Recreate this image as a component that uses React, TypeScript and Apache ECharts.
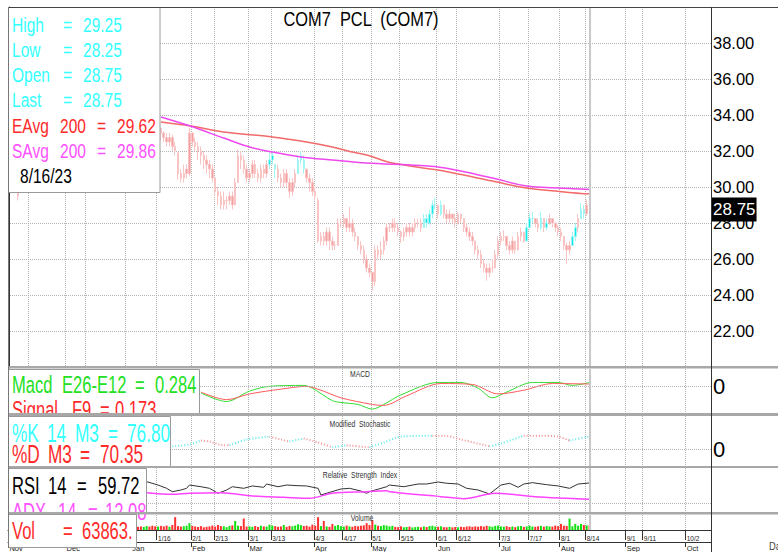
import React, { useEffect, useRef } from 'react';
import * as echarts from 'echarts';

const FONT = "'Liberation Sans', Arial, sans-serif";

const TITLE = 'COM7  PCL  (COM7)';
const LAST_DATE = '8/16/23';
const DAY_COUNT = 246; // weekdays from 2022-11-03
const DAY_TICKS = ['1/16', '2/1', '2/13', '3/1', '3/13', '4/3', '4/17', '5/1', '5/15', '6/1', '6/12', '7/3', '7/17', '8/1', '8/14', '9/1', '9/11', '10/2'];
const GRID_ONLY_TICKS = ['11/14', '12/1', '12/12', '12/30'];
const MONTH_TICKS = ['11/3', '12/1', '1/3', '2/1', '3/1', '4/3', '5/1', '6/1', '7/3', '8/1', '9/1', '10/2'];
const MONTH_NAMES = ['Nov', 'Dec', 'Jan', 'Feb', 'Mar', 'Apr', 'May', 'Jun', 'Jul', 'Aug', 'Sep', 'Oct'];

// [open, close, low, high]
const EARLY_INDEX = 3;
const EARLY_CANDLE = [30.0, 29.5, 29.25, 30.0];
const CANDLE_START = 45;
const CANDLES = [
  [34.0, 33.5, 33.25, 34.25], [33.5, 33.25, 33.0, 33.75], [33.25, 33.5, 33.0, 33.75], [33.5, 33.75, 33.25, 34.0],
  [33.75, 33.5, 33.25, 34.0], [33.5, 33.25, 33.0, 33.75], [33.25, 33.0, 32.75, 33.5], [33.0, 33.25, 32.75, 33.5],
  [33.25, 33.0, 32.6, 33.3], [33.0, 32.75, 32.5, 33.1], [32.75, 32.5, 32.25, 33.0], [32.5, 32.75, 32.25, 33.0],
  [32.75, 32.25, 32.0, 32.9], [32.25, 32.0, 31.75, 32.5], [31.9, 30.75, 30.4, 31.9], [30.75, 30.5, 30.25, 31.0],
  [30.5, 30.75, 30.25, 31.25], [30.75, 31.0, 30.5, 31.25], [30.75, 33.0, 30.6, 33.3], [33.0, 32.5, 32.25, 33.0],
  [32.5, 32.25, 32.0, 32.75], [32.25, 32.0, 31.5, 32.5], [32.0, 31.75, 31.25, 32.25], [31.75, 31.5, 31.0, 32.0],
  [31.5, 31.25, 30.75, 31.75], [31.25, 31.0, 30.5, 31.5], [31.0, 30.5, 30.25, 31.25], [30.5, 29.75, 29.5, 30.5],
  [29.75, 29.5, 29.0, 30.0], [29.5, 29.0, 28.75, 29.75], [29.0, 29.25, 28.75, 29.75], [29.25, 29.25, 28.75, 29.5],
  [29.25, 29.5, 29.0, 29.75], [29.5, 29.0, 28.75, 29.75], [29.0, 30.25, 29.0, 30.5], [30.25, 31.75, 30.25, 32.1],
  [31.75, 31.5, 31.0, 32.0], [31.5, 31.0, 30.75, 31.75], [31.0, 30.5, 30.25, 31.25], [30.5, 30.75, 30.25, 31.0],
  [30.75, 31.25, 30.5, 31.5], [31.25, 30.75, 30.5, 31.5], [30.75, 30.5, 30.25, 31.0], [30.5, 31.0, 30.25, 31.25],
  [31.0, 30.75, 30.5, 31.25], [30.75, 31.25, 30.5, 31.5], [31.25, 31.5, 31.0, 31.9], [31.5, 31.75, 31.25, 32.0],
  [31.25, 31.0, 30.5, 31.25], [31.0, 30.5, 30.25, 31.25], [30.5, 30.25, 30.0, 30.75], [30.25, 30.75, 30.0, 31.0],
  [30.75, 30.25, 30.0, 31.0], [30.25, 29.75, 29.4, 30.5], [29.75, 30.25, 29.5, 30.5], [30.25, 30.75, 30.0, 31.0],
  [30.75, 31.5, 30.75, 31.75], [31.5, 31.75, 31.25, 32.0], [31.5, 31.0, 30.75, 31.75], [31.0, 30.5, 30.25, 31.0],
  [30.5, 30.25, 29.75, 30.75], [30.25, 29.75, 29.5, 30.5], [29.75, 29.5, 29.25, 30.0], [29.25, 27.0, 26.9, 29.4],
  [27.0, 27.25, 26.75, 27.5], [27.25, 27.0, 26.75, 27.5], [27.0, 27.5, 26.75, 27.75], [27.5, 27.0, 26.5, 27.75],
  [27.0, 26.75, 26.5, 27.25], [26.75, 26.75, 26.5, 27.0], [26.75, 28.0, 26.75, 28.25], [28.0, 28.0, 27.75, 28.25],
  [28.0, 28.25, 27.75, 28.5], [28.25, 27.75, 27.5, 28.25], [27.75, 28.0, 27.5, 28.9], [28.0, 27.5, 27.25, 28.25],
  [27.5, 27.25, 27.0, 27.75], [27.25, 26.75, 26.5, 27.25], [26.75, 26.5, 26.25, 27.0], [26.5, 26.0, 25.75, 26.75],
  [26.0, 25.5, 25.25, 26.25], [25.5, 25.25, 25.0, 25.75], [25.25, 24.75, 24.25, 25.25], [24.75, 26.5, 24.5, 26.75],
  [26.5, 26.25, 26.0, 26.75], [26.25, 26.5, 26.0, 27.0], [26.5, 27.0, 26.25, 27.25], [27.0, 27.75, 26.75, 28.0],
  [27.75, 27.75, 27.5, 28.0], [27.75, 28.0, 27.5, 28.25], [28.0, 27.75, 27.5, 28.25], [27.75, 27.5, 27.25, 28.0],
  [27.5, 27.25, 26.9, 27.6], [27.25, 27.5, 27.0, 27.75], [27.5, 27.75, 27.25, 28.0], [27.75, 27.5, 27.25, 28.0],
  [27.5, 27.75, 27.25, 28.0], [27.75, 28.0, 27.5, 28.25], [28.0, 28.0, 27.75, 28.25], [28.0, 27.75, 27.5, 28.25],
  [27.75, 28.25, 27.75, 28.5], [28.25, 28.0, 27.75, 28.5], [28.0, 28.5, 27.9, 28.75], [28.5, 29.0, 28.25, 29.25],
  [29.0, 29.0, 28.75, 29.4], [29.0, 28.5, 28.25, 29.0], [28.5, 29.0, 28.4, 29.25], [29.0, 28.5, 28.25, 29.0],
  [28.5, 28.25, 28.0, 28.75], [28.25, 28.5, 28.0, 28.75], [28.5, 28.25, 28.0, 28.5], [28.25, 28.0, 27.75, 28.5],
  [28.0, 28.5, 27.9, 28.6], [28.5, 28.25, 28.0, 28.5], [28.25, 27.75, 27.5, 28.25], [27.75, 27.5, 27.25, 28.0],
  [27.5, 27.25, 27.0, 27.75], [27.25, 27.0, 26.75, 27.5], [27.0, 26.5, 26.25, 27.0], [26.5, 26.25, 26.0, 26.75],
  [26.25, 25.75, 25.5, 26.5], [25.75, 25.5, 25.25, 26.0], [25.5, 25.25, 24.8, 25.75], [25.25, 25.5, 25.0, 25.75],
  [25.5, 25.5, 25.25, 26.0], [25.5, 26.25, 25.5, 26.5], [26.25, 27.0, 26.0, 27.25], [27.0, 27.25, 26.75, 27.5],
  [27.25, 27.25, 27.0, 27.6], [27.25, 26.75, 26.5, 27.25], [26.75, 26.5, 26.25, 27.0], [26.5, 27.0, 26.3, 27.25],
  [27.0, 26.5, 26.3, 27.0], [26.5, 27.25, 26.5, 27.5], [27.25, 27.5, 27.0, 27.75], [27.5, 27.0, 26.9, 27.5],
  [27.0, 27.75, 27.0, 28.0], [27.75, 28.25, 27.75, 28.5], [28.25, 28.25, 28.0, 28.6], [28.25, 28.0, 27.75, 28.25],
  [28.0, 27.75, 27.5, 28.25], [27.75, 28.25, 27.6, 28.6], [28.25, 27.75, 27.5, 28.25], [27.75, 28.0, 27.6, 28.25],
  [28.0, 28.25, 27.9, 28.5], [28.25, 28.0, 27.75, 28.25], [28.0, 27.75, 27.5, 28.0], [27.75, 27.5, 27.25, 27.9],
  [27.5, 27.25, 27.0, 27.75], [27.25, 26.75, 26.5, 27.25], [26.75, 26.5, 25.75, 26.9], [26.5, 26.75, 26.25, 27.0],
  [26.75, 27.25, 26.75, 27.5], [27.25, 27.75, 27.0, 28.0], [27.75, 28.25, 27.5, 28.5], [28.25, 28.75, 28.25, 29.1],
  [28.75, 28.5, 28.25, 29.0], [28.5, 29.0, 28.4, 29.3], [28.75, 28.75, 28.25, 29.25],
];
const CYAN_DAYS = [91, 92, 93, 101, 102, 103, 145, 146, 147, 148, 149, 151, 181, 182, 183, 186, 188, 197, 198, 200, 201];

// volume in thousands of shares, from day 45
const VOLUME_START = 45;
const VOLUME_K = [
  45, 50, 42, 55, 48, 60, 52, 47, 58, 50,
  62, 45, 70, 180, 55, 48, 52, 60, 95, 58,
  50, 42, 55, 38, 45, 50, 62, 48, 70, 55,
  52, 40, 58, 65, 127, 60, 55, 160, 48, 50,
  45, 55, 42, 60, 50, 48, 75, 62, 55, 45,
  50, 70, 45, 58, 52, 62, 80, 68, 55, 60,
  48, 75, 60, 180, 55, 127, 50, 45, 85, 58,
  70, 55, 48, 62, 50, 45, 58, 52, 60, 65,
  95, 70, 138, 75, 60, 55, 68, 62, 50, 58,
  45, 40, 52, 38, 42, 48, 36, 40, 45, 38,
  50, 42, 55, 60, 48, 45, 52, 40, 38, 44,
  36, 42, 38, 45, 40, 48, 52, 44, 50, 46,
  55, 48, 60, 52, 45, 58, 62, 50, 46, 54,
  42, 48, 40, 52, 56, 44, 50, 62, 48, 45,
  52, 58, 46, 55, 50, 48, 62, 55, 85, 60,
  58, 160, 52, 85, 60, 85, 70, 65, 63.863,
];

// [day index, value]
const EMA200 = [[53, 33.61], [63, 33.4], [75, 33.06], [92, 32.78], [104, 32.5], [113, 32.22], [120, 31.94], [125, 31.78], [134, 31.33], [150, 30.94], [169, 30.33], [181, 29.94], [200, 29.64], [203, 29.62]];
const SMA200 = [[53, 33.89], [63, 33.4], [75, 32.72], [84, 32.22], [92, 31.94], [102, 31.67], [113, 31.5], [125, 31.33], [150, 31.11], [169, 30.5], [181, 30.06], [200, 29.89], [203, 29.86]];
const MACD_LINE = [[67, -0.5], [76, -1.14], [84, -0.36], [91, 0], [103, 0.07], [106, -0.14], [113, -1.07], [116, -1.21], [122, -1.36], [127, -1.71], [131, -1.36], [137, -0.64], [150, 0.29], [158, 0.29], [164, -0.14], [169, -0.86], [174, -0.43], [183, 0.29], [192, 0.29], [197, 0.07], [203, 0.284]];
const MACD_SIGNAL = [[67, -0.43], [76, -1.0], [84, -0.57], [95, -0.21], [104, 0], [109, -0.29], [116, -0.86], [127, -1.36], [131, -1.43], [139, -0.71], [151, 0.21], [162, 0.14], [171, -0.57], [180, -0.29], [190, 0.21], [203, 0.173]];
const STOCH_K = [[57, 18], [63, 29], [67, 53], [70, 47], [75, 24], [77, 24], [83, 59], [91, 76], [95, 59], [98, 47], [103, 65], [108, 41], [113, 12], [118, 24], [126, 12], [131, 41], [137, 76], [148, 82], [152, 82], [158, 59], [168, 18], [172, 35], [180, 82], [186, 82], [192, 76], [196, 53], [203, 76.8]];
const STOCH_D_LAST = 70.35;
const RSI14 = [[48, 61.7], [52, 56.7], [55, 51.8], [57, 46.8], [60, 49.3], [62, 51.8], [63, 56.7], [67, 54.2], [70, 51.8], [73, 44.4], [76, 49.3], [78, 54.2], [82, 51.8], [85, 55.3], [89, 53.3], [90, 58.2], [94, 54.2], [97, 56.7], [101, 55.7], [104, 55.3], [108, 51.8], [109, 41.9], [116, 50.8], [119, 51.8], [123, 47.8], [125, 44.4], [126, 46.8], [132, 54.2], [133, 56.7], [138, 54.2], [143, 58.2], [146, 58.2], [150, 61.2], [153, 59.3], [157, 58.2], [160, 51.8], [164, 49.3], [168, 43.4], [172, 56.7], [175, 59.3], [178, 53.3], [180, 58.2], [183, 60.2], [188, 57.2], [192, 55.3], [196, 51.8], [199, 58.2], [203, 59.72]];
const ADX14 = [[48, 21.9], [57, 19.5], [63, 21.0], [74, 21.9], [85, 17.0], [96, 15.1], [105, 13.6], [113, 21.0], [125, 23.4], [132, 24.9], [133, 23.4], [151, 16.0], [159, 13.0], [170, 21.0], [184, 16.0], [195, 13.6], [203, 12.08]];

const CYAN = '#33ffff';
const RED = '#ff2a2a';
const MAGENTA = '#ff50ff';
const GREEN = '#22e022';

function buildDays(): string[] {
  const out: string[] = [];
  const d = new Date(Date.UTC(2022, 10, 3));
  while (out.length < DAY_COUNT) {
    const wd = d.getUTCDay();
    if (wd !== 0 && wd !== 6) out.push(`${d.getUTCMonth() + 1}/${d.getUTCDate()}`);
    d.setUTCDate(d.getUTCDate() + 1);
  }
  return out;
}

export default function App() {
  const ref = useRef<HTMLDivElement>(null);
  useEffect(() => {
    document.body.style.margin = '0';
    const chart = echarts.init(ref.current!, undefined, { renderer: 'svg' });
    const DAYS = buildDays();
    const lastIndex = CANDLE_START + CANDLES.length - 1;
    const last = CANDLES[CANDLES.length - 1];
    const gridSet = new Set([...DAY_TICKS, ...GRID_ONLY_TICKS]);
    const labelSet = new Set(DAY_TICKS);
    const monthSet = new Set(MONTH_TICKS);
    const gridFn = (_i: number, v: string) => gridSet.has(v);
    const labelFn = (_i: number, v: string) => labelSet.has(v);
    const monthFn = (_i: number, v: string) => monthSet.has(v);

    const closeAt = (i: number) => {
      if (i === EARLY_INDEX) return EARLY_CANDLE[1];
      const c = CANDLES[i - CANDLE_START];
      return c ? c[1] : NaN;
    };

    const candleData: any[] = [];
    for (let i = 0; i <= lastIndex; i++) {
      let v: number[] | null = null;
      if (i === EARLY_INDEX) v = EARLY_CANDLE;
      else if (i >= CANDLE_START) v = CANDLES[i - CANDLE_START];
      if (!v) { candleData.push(['-', '-', '-', '-']); continue; }
      const cyan = CYAN_DAYS.includes(i);
      const body = cyan ? '#10eaea' : '#f4a0a0';
      const wick = cyan ? '#9ff4f4' : '#f8c4c4';
      candleData.push({ value: v, itemStyle: { color: body, color0: body, borderColor: wick, borderColor0: wick } });
    }

    const volData: any[] = [];
    for (let i = 0; i <= lastIndex; i++) {
      const k = i - VOLUME_START;
      if (k < 0 || k >= VOLUME_K.length) { volData.push('-'); continue; }
      const prev = closeAt(i - 1);
      const c = CANDLES[i - CANDLE_START];
      const up = isNaN(prev) ? c[1] >= c[0] : c[1] >= prev;
      volData.push({ value: VOLUME_K[k], itemStyle: { color: up ? '#10e010' : '#ff3030' } });
    }

    const segs: { rising: boolean; pts: number[][] }[] = [];
    for (let k = 1; k < STOCH_K.length; k++) {
      const a = STOCH_K[k - 1], b = STOCH_K[k];
      const rising = b[1] > a[1];
      const s = segs[segs.length - 1];
      if (s && s.rising === rising) s.pts.push(b);
      else segs.push({ rising, pts: [a, b] });
    }

    const dotted = { color: '#b4b4b4', type: 'dotted' as const, width: 1 };
    const nowLine = { xAxis: lastIndex, lineStyle: { color: '#c8c8c8', width: 2, type: 'solid' }, label: { show: false } };
    const nowLineCat = { xAxis: DAYS[lastIndex], lineStyle: { color: '#c8c8c8', width: 2, type: 'solid' }, label: { show: false } };

    const catAxis = (g: number, extra: any = {}) => ({
      type: 'category', gridIndex: g, data: DAYS, boundaryGap: true,
      axisLine: { show: false }, axisTick: { show: false }, axisLabel: { show: false },
      splitLine: { show: true, interval: gridFn, lineStyle: dotted }, ...extra,
    });
    const valAxis = (g: number) => ({ type: 'value', gridIndex: g, min: -0.5, max: DAY_COUNT - 0.5, show: false });
    const rightAxisLine = { show: true, lineStyle: { color: '#333', width: 1 } };

    const grids = [
      { left: 8, right: 67, top: 7, height: 360 },
      { left: 8, right: 67, top: 369, height: 44 },
      { left: 8, right: 67, top: 416, height: 50 },
      { left: 8, right: 67, top: 468, height: 44 },
      { left: 8, right: 67, top: 515, height: 20 },
    ];

    let z = 100;
    const txt = (x: number, y: number, text: string, fill: string, size: number, sx: number, align = 'left') => ({
      type: 'text', z, x, y, scaleX: sx,
      style: { text, fill, fontSize: size, fontFamily: FONT, align, textAlign: align, verticalAlign: 'middle', textVerticalAlign: 'middle' },
    });
    const box = (x: number, y: number, w: number, h: number) => {
      z += 2;
      return { type: 'rect', z: z - 1, shape: { x, y, width: w, height: h }, style: { fill: '#fff', stroke: '#9a9a9a', lineWidth: 1 } };
    };
    const sep = (y: number, h: number) => {
      z += 2;
      return { type: 'rect', z: z - 1, shape: { x: 8, y, width: 770, height: h }, style: { fill: '#a8a8a8' } };
    };
    const vline = (x: number, y1: number, y2: number, color: string) => ({ type: 'line', z: 200, shape: { x1: x, y1, x2: x, y2 }, style: { stroke: color, lineWidth: 1 } });
    const hline = (y: number, x1: number, x2: number, color: string) => ({ type: 'line', z: 200, shape: { x1, y1: y, x2, y2: y }, style: { stroke: color, lineWidth: 1 } });

    const ema = EMA200[EMA200.length - 1][1];
    const sma = SMA200[SMA200.length - 1][1];
    const macd = MACD_LINE[MACD_LINE.length - 1][1];
    const sig = MACD_SIGNAL[MACD_SIGNAL.length - 1][1];
    const kLast = STOCH_K[STOCH_K.length - 1][1];
    const rsi = RSI14[RSI14.length - 1][1];
    const adx = ADX14[ADX14.length - 1][1];
    const vol = Math.round(VOLUME_K[VOLUME_K.length - 1] * 1000);

    const S1 = 0.74, S2 = 0.69;
    const graphic: any[] = [];
    graphic.push(
      txt(361, 19, TITLE, '#000', 20, 0.82, 'center'),
      txt(360, 374, 'MACD', '#333', 8.5, 0.8, 'center'),
      txt(360, 424, 'Modified  Stochastic', '#333', 8.5, 0.8, 'center'),
      txt(360, 475, 'Relative  Strength  Index', '#333', 8.5, 0.8, 'center'),
      txt(362, 518, 'Volume', '#333', 8.5, 0.8, 'center'),
    );
    graphic.push(box(8.5, 7.5, 151.5, 185));
    graphic.push(
      txt(12, 25, 'High', CYAN, 21, S1), txt(63, 25, '=', CYAN, 21, S1), txt(83, 25, last[3].toFixed(2), CYAN, 21, S1),
      txt(12, 49.5, 'Low', CYAN, 21, S1), txt(63, 49.5, '=', CYAN, 21, S1), txt(83, 49.5, last[2].toFixed(2), CYAN, 21, S1),
      txt(12, 74.5, 'Open', CYAN, 21, S1), txt(63, 74.5, '=', CYAN, 21, S1), txt(83, 74.5, last[0].toFixed(2), CYAN, 21, S1),
      txt(12, 100, 'Last', CYAN, 21, S1), txt(63, 100, '=', CYAN, 21, S1), txt(83, 100, last[1].toFixed(2), CYAN, 21, S1),
      txt(12, 125.5, 'EAvg', RED, 21, S1), txt(60, 125.5, '200', RED, 21, S1), txt(97, 125.5, '=', RED, 21, S1), txt(117, 125.5, ema.toFixed(2), RED, 21, S1),
      txt(12, 150.5, 'SAvg', MAGENTA, 21, S1), txt(60, 150.5, '200', MAGENTA, 21, S1), txt(97, 150.5, '=', MAGENTA, 21, S1), txt(117, 150.5, sma.toFixed(2), MAGENTA, 21, S1),
      txt(20, 176, LAST_DATE, '#000', 21, S1),
    );
    graphic.push(box(8.5, 369.5, 191, 44));
    graphic.push(
      txt(12, 384.5, 'Macd', GREEN, 24, S2), txt(62, 384.5, 'E26-E12', GREEN, 24, S2), txt(135, 384.5, '=', GREEN, 24, S2), txt(155, 384.5, macd.toFixed(3), GREEN, 24, S2),
      txt(12, 409, 'Signal', RED, 24, S2), txt(72, 409, 'F9', RED, 24, S2), txt(100, 409, '=', RED, 24, S2), txt(115, 409, sig.toFixed(3), RED, 24, S2),
    );
    graphic.push(sep(413, 3));
    graphic.push(box(8.5, 416.5, 162, 50));
    graphic.push(
      txt(12, 433.5, '%K', CYAN, 25, S2), txt(47, 433.5, '14', CYAN, 25, S2), txt(75, 433.5, 'M3', CYAN, 25, S2), txt(108, 433.5, '=', CYAN, 25, S2), txt(127, 433.5, kLast.toFixed(2), CYAN, 25, S2),
      txt(12, 455, '%D', RED, 25, S2), txt(48, 455, 'M3', RED, 25, S2), txt(80, 455, '=', RED, 25, S2), txt(100, 455, STOCH_D_LAST.toFixed(2), RED, 25, S2),
    );
    graphic.push(sep(466, 2));
    graphic.push(box(8.5, 468.5, 138, 44));
    graphic.push(
      txt(12, 485.5, 'RSI', '#000', 24, S2), txt(48, 485.5, '14', '#000', 24, S2), txt(77, 485.5, '=', '#000', 24, S2), txt(98, 485.5, rsi.toFixed(2), '#000', 24, S2),
      txt(12, 511, 'ADX', MAGENTA, 24, S2), txt(58, 511, '14', MAGENTA, 24, S2), txt(88, 511, '=', MAGENTA, 24, S2), txt(105, 511, adx.toFixed(2), MAGENTA, 24, S2),
    );
    graphic.push(sep(512, 2.5));
    graphic.push(box(8.5, 514.5, 128, 33));
    graphic.push(
      txt(12, 530.5, 'Vol', RED, 24, S2), txt(63, 530.5, '=', RED, 24, S2), txt(82, 530.5, `${vol}.`, RED, 24, S2),
    );
    graphic.push(sep(366, 2.5));
    graphic.push(
      hline(7.5, 8, 778, '#444'),
      vline(8.5, 7, 548, '#777'),
      vline(711.5, 7, 552, '#333'),
      txt(769, 546, 'Date', '#444', 11, 0.85),
    );

    const series: any[] = [
      {
        type: 'candlestick', xAxisIndex: 0, yAxisIndex: 0, data: candleData, barWidth: 2,
        itemStyle: { borderWidth: 1 }, silent: true,
        markLine: {
          silent: true, symbol: ['none', 'none'], animation: false,
          data: [
            { yAxis: last[1], lineStyle: { color: 'rgba(0,0,0,0)', width: 0 }, label: { show: true, position: 'end', formatter: last[1].toFixed(2), color: '#fff', backgroundColor: '#000', opacity: 1, fontSize: 17, fontFamily: FONT, padding: [4, 1, 3, 1], distance: 1 } },
            nowLineCat,
          ],
        },
      },
      { type: 'line', xAxisIndex: 1, yAxisIndex: 0, data: EMA200, showSymbol: false, smooth: 0.3, lineStyle: { color: '#f26a6a', width: 1.5 }, silent: true },
      { type: 'line', xAxisIndex: 1, yAxisIndex: 0, data: SMA200, showSymbol: false, smooth: 0.3, lineStyle: { color: '#ee48ee', width: 1.5 }, silent: true },
      {
        type: 'line', xAxisIndex: 3, yAxisIndex: 1, data: MACD_LINE, showSymbol: false, smooth: 0.3, lineStyle: { color: '#33dd33', width: 1 }, silent: true,
        markLine: { silent: true, symbol: ['none', 'none'], animation: false, data: [{ yAxis: 0, lineStyle: dotted, label: { show: false } }, nowLine] },
      },
      { type: 'line', xAxisIndex: 3, yAxisIndex: 1, data: MACD_SIGNAL, showSymbol: false, smooth: 0.3, lineStyle: { color: '#ff5a5a', width: 1 }, silent: true },
      ...segs.map((s, k) => ({
        type: 'line', xAxisIndex: 5, yAxisIndex: 2, data: s.pts, showSymbol: false, smooth: 0.3, silent: true,
        lineStyle: { color: s.rising ? '#5eeaea' : '#f49494', width: 2, type: [1, 2] },
        ...(k === 0 ? { markLine: { silent: true, symbol: ['none', 'none'], animation: false, data: [{ yAxis: 0, lineStyle: dotted, label: { show: false } }, nowLine] } } : {}),
      })),
      {
        type: 'line', xAxisIndex: 7, yAxisIndex: 3, data: RSI14, showSymbol: false, lineStyle: { color: '#333', width: 1 }, silent: true,
        markLine: { silent: true, symbol: ['none', 'none'], animation: false, data: [{ yAxis: 30, lineStyle: dotted, label: { show: false } }, nowLine] },
      },
      { type: 'line', xAxisIndex: 7, yAxisIndex: 4, data: ADX14, showSymbol: false, smooth: 0.3, lineStyle: { color: '#ff44ff', width: 1.5 }, silent: true },
      {
        type: 'bar', xAxisIndex: 8, yAxisIndex: 5, data: volData, barWidth: 2, silent: true,
        markLine: { silent: true, symbol: ['none', 'none'], animation: false, data: [nowLineCat] },
      },
    ];

    chart.setOption({
      animation: false,
      backgroundColor: '#fff',
      grid: grids,
      xAxis: [
        catAxis(0), valAxis(0),
        catAxis(1), valAxis(1),
        catAxis(2), valAxis(2),
        catAxis(3), valAxis(3),
        catAxis(4, {
          position: 'bottom', offset: 2,
          axisLine: { show: true, lineStyle: { color: '#333' } },
          axisTick: { show: true, interval: labelFn, length: 10, lineStyle: { color: '#333' } },
          axisLabel: { show: true, interval: labelFn, align: 'left', margin: 3, fontSize: 6.5, color: '#222', fontFamily: FONT },
        }),
        {
          type: 'category', gridIndex: 4, data: DAYS, boundaryGap: true, position: 'bottom', offset: 12,
          axisLine: { show: true, lineStyle: { color: '#333' } },
          axisTick: { show: true, interval: monthFn, length: 5, lineStyle: { color: '#333' } },
          axisLabel: { show: true, interval: monthFn, align: 'left', margin: 2, fontSize: 7.5, color: '#222', fontFamily: FONT, formatter: (v: string) => MONTH_NAMES[MONTH_TICKS.indexOf(v)] || '' },
          splitLine: { show: false },
        },
      ],
      yAxis: [
        {
          type: 'value', gridIndex: 0, position: 'right', min: 20, max: 40, interval: 2,
          axisLine: rightAxisLine, axisTick: { show: false },
          axisLabel: { margin: 2, fontSize: 16.5, color: '#000', fontFamily: FONT, formatter: (v: number) => (v === 20 || v === 40 ? '' : v.toFixed(2)) },
          splitLine: { show: true, lineStyle: dotted },
        },
        {
          type: 'value', gridIndex: 1, position: 'right', min: -2, max: 1.3, interval: 1,
          axisLine: rightAxisLine, axisTick: { show: false }, splitLine: { show: false },
          axisLabel: { margin: 2, fontSize: 22, color: '#000', fontFamily: FONT, formatter: (v: number) => (v === 0 ? '0' : '') },
        },
        {
          type: 'value', gridIndex: 2, position: 'right', min: -100, max: 200, interval: 100,
          axisLine: rightAxisLine, axisTick: { show: false }, splitLine: { show: false },
          axisLabel: { margin: 2, fontSize: 22, color: '#000', fontFamily: FONT, formatter: (v: number) => (v === 0 ? '0' : '') },
        },
        {
          type: 'value', gridIndex: 3, position: 'right', min: 16.6, max: 82,
          axisLine: rightAxisLine, axisTick: { show: false }, splitLine: { show: false }, axisLabel: { show: false },
        },
        { type: 'value', gridIndex: 3, position: 'right', min: -6.8, max: 58.6, show: false },
        {
          type: 'value', gridIndex: 4, position: 'right', min: 0, max: 210,
          axisLine: rightAxisLine, axisTick: { show: false }, splitLine: { show: false }, axisLabel: { show: false },
        },
      ],
      graphic,
      series,
    });
    return () => chart.dispose();
  }, []);
  return <div ref={ref} style={{ width: 778, height: 552 }} />;
}
